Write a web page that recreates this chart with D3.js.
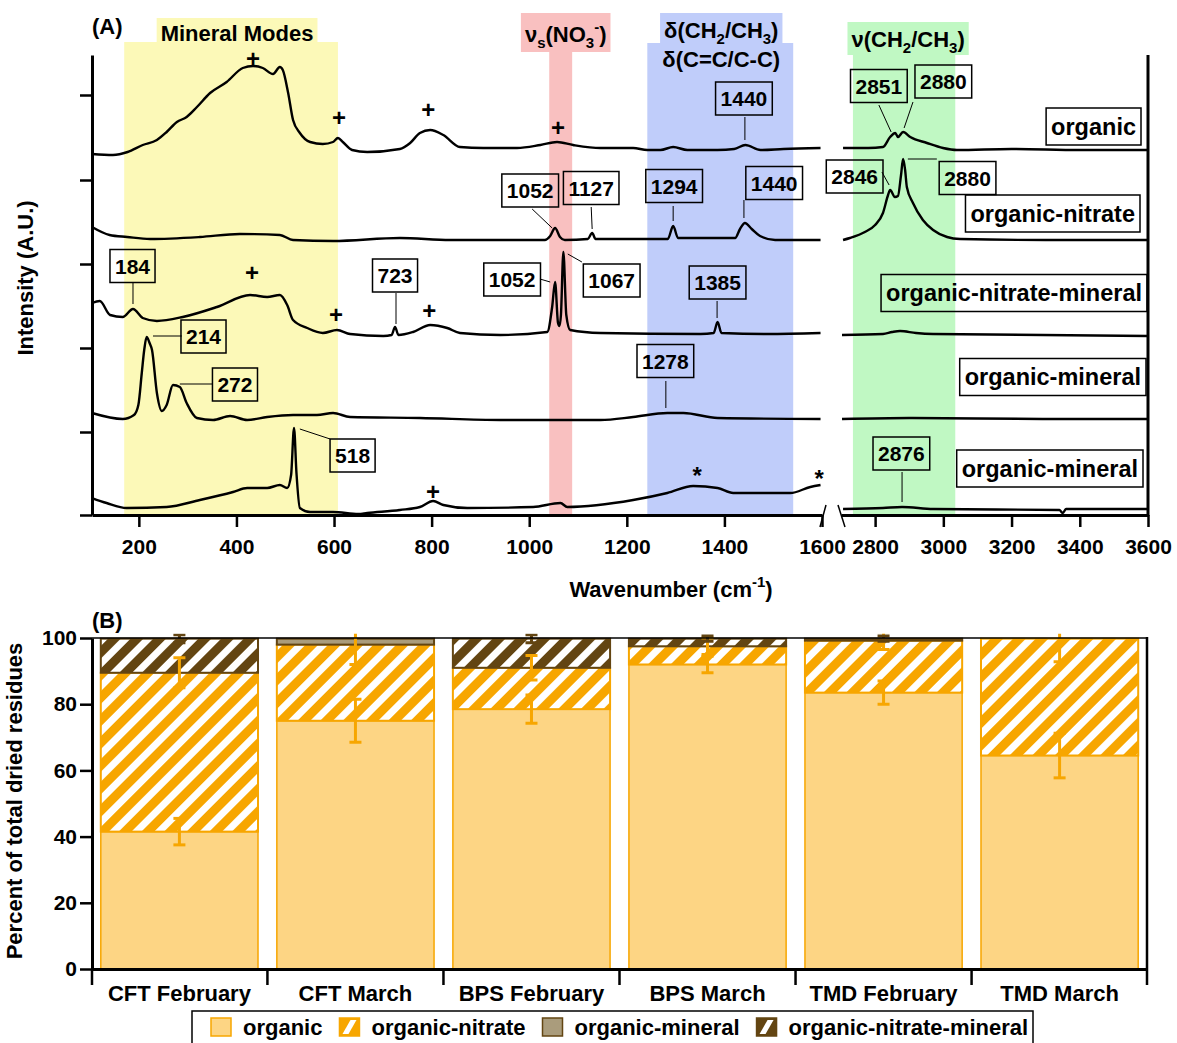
<!DOCTYPE html>
<html><head><meta charset="utf-8">
<script src="https://cdn.jsdelivr.net/npm/d3@7"></script>
<style>
body{margin:0;background:#fff}
text{font-family:"Liberation Sans",Arial,sans-serif;font-weight:bold;fill:#000}
</style>
</head><body>
<svg id="chart" width="1177" height="1043" xmlns="http://www.w3.org/2000/svg"></svg>
<script>
// ================= PANEL A DATA =================
const seg1Domain = [104, 1600];
const seg2Domain = [2700, 3600];
const seg1Ticks = [200, 400, 600, 800, 1000, 1200, 1400, 1600];
const seg2Ticks = [2800, 3000, 3200, 3400, 3600];
const intensityDomain = [0, 460];
const intensityTicks = [0, 83, 167, 251, 335, 420];

const traceNames = ["organic", "organic-nitrate", "organic-nitrate-mineral", "organic-mineral", "organic-mineral"];
const traceLabelIntensity = [388.5, 301.5, 222, 138, 46.5];

// spectra: [wavenumber, intensity (A.U., stacked)]
const spec1Low = [[104,361],[147,360],[177,363],[208,370],[237,375],[257,383],[278,393],[298,398],[319,408],[346,422],[380,433],[413,447],[434,449],[454,447],[475,441],[489,448],[495,445],[506,422],[516,395],[530,382],[551,373],[577,371],[598,373],[608,377],[618,373],[637,365],[668,363],[735,366],[756,372],[776,382],[797,385],[824,380],[858,368],[906,367],[975,367],[1023,370],[1057,373],[1090,370],[1146,367],[1213,367],[1242,365],[1269,365],[1295,368],[1324,365],[1386,365],[1420,366],[1443,370],[1474,365],[1521,366],[1597,367]];
const spec1High = [[2706,367],[2780,367],[2823,368],[2844,378],[2859,382],[2867,378],[2882,383],[2903,378],[2952,372],[2999,367],[3040,365],[3200,366],[3400,365],[3600,365]];
const spec2Low = [[104,288],[140,280],[176,278],[223,276],[325,278],[407,281],[489,280],[516,275],[598,274],[735,277],[838,275],[940,275],[1032,275],[1043,279],[1053,287],[1063,278],[1073,275],[1120,276],[1129,282],[1136,276],[1284,276],[1295,289],[1305,277],[1422,277],[1432,286],[1442,292],[1456,286],[1473,279],[1504,275],[1597,275]];
const spec2High = [[2706,275],[2726,277],[2770,283],[2800,290],[2823,302],[2838,320],[2844,325],[2858,318],[2867,319],[2876,340],[2882,356],[2888,345],[2893,328],[2911,312],[2940,295],[2970,285],[3011,278],[3049,276],[3300,275],[3600,275]];
const spec3Low = [[104,212],[120,214],[141,200],[167,198],[188,206],[208,197],[237,194],[290,198],[360,208],[428,220],[463,218],[489,220],[504,210],[516,195],[545,187],[577,182],[606,185],[633,181],[701,179],[718,180],[725,188],[732,180],[762,183],[797,190],[832,187],[858,182],[941,180],[1037,183],[1047,208],[1053,233],[1059,192],[1062,189],[1065,200],[1070,263],[1076,200],[1084,185],[1146,182],[1351,181],[1378,182],[1386,193],[1394,182],[1488,181],[1597,182]];
const spec3High = [[2703,180],[2823,181],[2850,183],[2873,184],[2920,182],[2970,181],[3600,179]];
const spec4Low = [[104,102],[167,96],[190,100],[199,110],[206,142],[211,165],[216,178],[222,172],[227,165],[237,122],[247,104],[257,110],[270,130],[284,128],[298,112],[319,97],[352,95],[387,99],[422,95],[463,98],[516,100],[565,100],[598,102],[633,98],[776,97],[941,95],[1146,95],[1213,98],[1283,102],[1316,102],[1386,97],[1597,96]];
const spec4High = [[2703,96],[2900,97],[3300,96],[3600,96]];
const spec5Low = [[104,17],[134,12],[175,7],[257,8],[325,15],[393,23],[422,27],[463,27],[489,30],[504,27],[512,40],[518,87],[523,42],[530,7],[551,3],[598,3],[650,1],[668,2],[735,5],[776,8],[803,14],[824,10],[873,7],[1008,8],[1064,12],[1078,8],[1213,15],[1283,22],[1336,29],[1386,27],[1418,22],[1488,22],[1535,22],[1576,28],[1597,30]];
const spec5High = [[2706,6],[2823,7],[2879,8],[2970,6],[3340,5],[3350,2],[3360,6],[3600,6]];

// highlighted spectral regions
const bandSeg = [1, 1, 1, 2];
const bandLow = [170, 1041, 1242, 2735];
const bandHigh = [608, 1088, 1541, 3035];
const bandLabels = [
  [["Mineral Modes"]],
  [["ν"], ["s", "sub"], ["(NO"], ["3", "sub"], ["-", "sup"], [")"]],
  [["δ(CH"], ["2", "sub"], ["/CH"], ["3", "sub"], [")"]],
  [["ν(CH"], ["2", "sub"], ["/CH"], ["3", "sub"], [")"]]
];
const bandSecondLine = ["", "", "δ(C=C/C-C)", ""];

// peak annotations
const annLabels = ["1440","2851","2880","1052","1127","1294","1440","2846","2880","184","723","214","272","518","1052","1067","1385","1278","2876"];
const annSeg =    [1,2,2,1,1,1,1,2,2,1,1,1,1,1,1,1,1,1,2];
const annBox = [[1440,416.5],[2811,429],[3000,433.5],[1002,324.5],[1127,327],[1297,329],[1502,332],[2740,338.5],[3071,337],[187,249],[725,239.5],[332.5,178.5],[397,130.5],[638,59.5],[965,235.5],[1169,234.5],[1386,232.5],[1279,154],[2877,61.5]];
const annLeader = [
  [[1442,398],[1442,375]], [[2811,410],[2847,383]], [[2911,413],[2885,387]],
  [[1006,306],[1047,287]], [[1127,308],[1129,286]], [[1295,309],[1295,294]],
  [[1440,315],[1440,297]], [[2820,343],[2841,330]], [[2896,356],[2981,356]],
  [[188,232],[188,211]], [[727,222],[727,191]], [[229,179],[288,179]],
  [[284,131],[352,131]], [[530,86],[592,76]], [[1022,236],[1043,233]],
  [[1079,261],[1108,253]], [[1385,214],[1385,197]], [[1280,134],[1280,107]],
  [[2879,43],[2879,13]]
];
const plusMarks = [[434,456],[610,397],[793,405],[1059,387],[432,242],[604,200],[795,204],[803,23]];
const starMarks = [[1344,43],[1594,40]];

// ================= PANEL B DATA =================
const categories = ["CFT February", "CFT March", "BPS February", "BPS March", "TMD February", "TMD March"];
const seriesNames = ["organic", "organic-nitrate", "organic-mineral", "organic-nitrate-mineral"];
const organicPct = [41.5, 75, 78.5, 92, 83.5, 64.5];
const organicNitratePct = [48, 23, 12.5, 5.5, 15.7, 35.3];
const organicMineralPct = [0, 1.8, 0, 0, 0, 0];
const organicNitrateMineralPct = [10.3, 0, 8.8, 2.3, 0.6, 0];
const organicErr = [4, 6.5, 4.25, 2.5, 3.5, 6.75];
const organicNitrateErr = [4.5, 6, 3.7, 2.5, 2.7, 7];
const organicMineralErr = [0, 0, 0, 0, 0, 0];
const organicNitrateMineralErr = [1.2, 0, 1.2, 0.8, 0.8, 0];
const percentTicks = [0, 20, 40, 60, 80, 100];

// ================= STYLE =================
const bandColors = ["#fcf9b8", "#f9c0c0", "#c0cdfa", "#c0f8c3"];
const bandTop = [42, 52, 43, 55];
const bandRectTop = [18, 13, 13, 22];
const bandLabelY = [41, 42, 38, 47];
const bandLabelDx = [6, 5, 1, 4];
const traceLabelRight = [1136, 1135, 1142, 1141, 1138];
const ORANGE = "#f7a600", LIGHT = "#fdd584", BROWN = "#634512", TAN = "#aa9c7c";

const svg = d3.select("#chart");
svg.append("rect").attr("width", 1177).attr("height", 1043).attr("fill", "#fff");
const defs = svg.append("defs");

function addRich(t, parts) {
  let shift = 0;
  parts.forEach(([txt, kind]) => {
    const target = kind === "sub" ? 6 : kind === "sup" ? -10 : 0;
    const ts = t.append("tspan").text(txt);
    if (target - shift !== 0) ts.attr("dy", target - shift);
    if (kind) ts.attr("font-size", 15);
    shift = target;
  });
}

// ---------- Panel A ----------
const xA1 = d3.scaleLinear().domain(seg1Domain).range([92, 822]);
const xA2 = d3.scaleLinear().domain(seg2Domain).range([841, 1148]);
const yA = d3.scaleLinear().domain(intensityDomain).range([515, 55]);
const xs = s => (s === 1 ? xA1 : xA2);
const gA = svg.append("g");

bandLow.forEach((lo, i) => {
  const sc = xs(bandSeg[i]);
  gA.append("rect").attr("x", sc(lo)).attr("y", bandTop[i])
    .attr("width", sc(bandHigh[i]) - sc(lo)).attr("height", 515 - bandTop[i])
    .attr("fill", bandColors[i]);
});
bandLabels.forEach((parts, i) => {
  const sc = xs(bandSeg[i]);
  const cx = (sc(bandLow[i]) + sc(bandHigh[i])) / 2 + bandLabelDx[i];
  const t = gA.append("text").attr("x", cx).attr("y", bandLabelY[i])
    .attr("text-anchor", "middle").attr("font-size", 22);
  addRich(t, parts);
  const bb = t.node().getBBox();
  gA.insert("rect", () => t.node()).attr("x", bb.x - 4).attr("width", bb.width + 8)
    .attr("y", bandRectTop[i]).attr("height", bandTop[i] - bandRectTop[i])
    .attr("fill", bandColors[i]);
  if (bandSecondLine[i]) {
    gA.append("text").attr("x", cx).attr("y", 67).attr("text-anchor", "middle")
      .attr("font-size", 22).text(bandSecondLine[i]);
  }
});

gA.append("text").attr("x", 92).attr("y", 34).attr("font-size", 22).text("(A)");

const lineLow = d3.line().x(d => xA1(d[0])).y(d => yA(d[1])).curve(d3.curveMonotoneX);
const lineHigh = d3.line().x(d => xA2(d[0])).y(d => yA(d[1])).curve(d3.curveMonotoneX);
[spec1Low, spec2Low, spec3Low, spec4Low, spec5Low].forEach(s =>
  gA.append("path").attr("d", lineLow(s)).attr("fill", "none").attr("stroke", "#000").attr("stroke-width", 2.4).attr("stroke-linejoin", "round"));
[spec1High, spec2High, spec3High, spec4High, spec5High].forEach(s =>
  gA.append("path").attr("d", lineHigh(s)).attr("fill", "none").attr("stroke", "#000").attr("stroke-width", 2.4).attr("stroke-linejoin", "round"));

// axes A
function styleAxis(g, fs) {
  g.attr("font-family", "Liberation Sans, Arial, sans-serif").attr("font-weight", "bold").attr("font-size", fs);
  g.select(".domain").attr("stroke-width", 3).attr("stroke", "#000");
  g.selectAll(".tick line").attr("stroke-width", 2.5).attr("stroke", "#000");
  g.selectAll(".tick text").attr("fill", "#000");
}
const fmt = d3.format("d");
styleAxis(gA.append("g").attr("transform", "translate(92,0)")
  .call(d3.axisLeft(yA).tickValues(intensityTicks).tickSize(12).tickSizeOuter(0).tickFormat("")), 21);
styleAxis(gA.append("g").attr("transform", "translate(0,515)")
  .call(d3.axisBottom(xA1).tickValues(seg1Ticks).tickFormat(fmt).tickSize(12).tickSizeOuter(0).tickPadding(12)), 21);
styleAxis(gA.append("g").attr("transform", "translate(0,515)")
  .call(d3.axisBottom(xA2).tickValues(seg2Ticks).tickFormat(fmt).tickSize(12).tickSizeOuter(0).tickPadding(12)), 21);
gA.append("line").attr("x1", 1148).attr("x2", 1148).attr("y1", 55).attr("y2", 516).attr("stroke", "#000").attr("stroke-width", 3);
// axis break marks
gA.append("line").attr("x1", 826).attr("y1", 505).attr("x2", 820).attr("y2", 527).attr("stroke", "#000").attr("stroke-width", 1.5);
gA.append("line").attr("x1", 838).attr("y1", 505).attr("x2", 845).attr("y2", 527).attr("stroke", "#000").attr("stroke-width", 1.5);

// annotations
annLabels.forEach((lab, i) => {
  const sc = xs(annSeg[i]);
  const L = annLeader[i];
  gA.append("line").attr("x1", sc(L[0][0])).attr("y1", yA(L[0][1]))
    .attr("x2", sc(L[1][0])).attr("y2", yA(L[1][1])).attr("stroke", "#000").attr("stroke-width", 1);
  const cx = sc(annBox[i][0]), cy = yA(annBox[i][1]);
  const t = gA.append("text").attr("x", cx).attr("y", cy + 7.5).attr("text-anchor", "middle")
    .attr("font-size", 21).text(lab);
  const w = t.node().getComputedTextLength();
  gA.append("rect").attr("x", cx - w / 2 - 5).attr("y", cy - 16.5).attr("width", w + 10).attr("height", 33)
    .attr("fill", "none").attr("stroke", "#000").attr("stroke-width", 1.5);
});
plusMarks.forEach(p => gA.append("text").attr("x", xA1(p[0])).attr("y", yA(p[1]) + 8)
  .attr("text-anchor", "middle").attr("font-size", 24).text("+"));
starMarks.forEach(p => gA.append("text").attr("x", xA1(p[0])).attr("y", yA(p[1]) + 12)
  .attr("text-anchor", "middle").attr("font-size", 24).text("*"));

// trace labels
traceNames.forEach((nm, i) => {
  const cy = yA(traceLabelIntensity[i]);
  const t = gA.append("text").attr("x", traceLabelRight[i]).attr("y", cy + 8)
    .attr("text-anchor", "end").attr("font-size", 23.5).text(nm);
  const w = t.node().getComputedTextLength();
  gA.append("rect").attr("x", traceLabelRight[i] - w - 5).attr("y", cy - 18.5).attr("width", w + 10).attr("height", 37)
    .attr("fill", "none").attr("stroke", "#000").attr("stroke-width", 1.5);
});

gA.append("text").attr("transform", "translate(33,278) rotate(-90)").attr("text-anchor", "middle")
  .attr("font-size", 22).text("Intensity (A.U.)");
const xt = gA.append("text").attr("x", 671).attr("y", 597).attr("text-anchor", "middle").attr("font-size", 22);
addRich(xt, [["Wavenumber (cm"], ["-1", "sup"], [")"]]);

// ---------- Panel B ----------
function hatch(id, color) {
  const p = defs.append("pattern").attr("id", id).attr("patternUnits", "userSpaceOnUse")
    .attr("width", 16).attr("height", 16).attr("patternTransform", "rotate(45)");
  p.append("rect").attr("width", 16).attr("height", 16).attr("fill", "#fff");
  p.append("rect").attr("width", 9).attr("height", 16).attr("fill", color);
}
hatch("hatchOrange", ORANGE);
hatch("hatchBrown", BROWN);

const keys = ["organic", "organicNitrate", "organicMineral", "organicNitrateMineral"];
const pctArrays = [organicPct, organicNitratePct, organicMineralPct, organicNitrateMineralPct];
const errArrays = [organicErr, organicNitrateErr, organicMineralErr, organicNitrateMineralErr];
const fills = [LIGHT, "url(#hatchOrange)", TAN, "url(#hatchBrown)"];
const strokes = [ORANGE, ORANGE, BROWN, BROWN];
const errColors = [ORANGE, ORANGE, BROWN, BROWN];

const rows = categories.map((c, i) => {
  const r = { cat: c };
  keys.forEach((k, j) => r[k] = pctArrays[j][i]);
  return r;
});
const stacked = d3.stack().keys(keys)(rows);

const xB = d3.scaleBand().domain(categories).range([92, 1147]).paddingInner(0.107).paddingOuter(0.05);
const yB = d3.scaleLinear().domain([0, 100]).range([969, 638]);
const gB = svg.append("g");
const bw = xB.bandwidth();

stacked.forEach((layer, j) => {
  layer.forEach((d, i) => {
    if (d[1] - d[0] <= 0) return;
    gB.append("rect").attr("x", xB(categories[i])).attr("width", bw)
      .attr("y", yB(d[1])).attr("height", yB(d[0]) - yB(d[1]))
      .attr("fill", fills[j]).attr("stroke", strokes[j]).attr("stroke-width", j === 0 ? 1.5 : 2);
  });
});

defs.append("clipPath").attr("id", "clipB").append("rect")
  .attr("x", 92).attr("y", yB(101.3)).attr("width", 1055).attr("height", 969 - yB(101.3));
const gErr = gB.append("g").attr("clip-path", "url(#clipB)");
stacked.forEach((layer, j) => {
  layer.forEach((d, i) => {
    const e = errArrays[j][i];
    if (!e || d[1] - d[0] <= 0) return;
    const cx = xB(categories[i]) + bw / 2;
    const y0 = yB(d[1] - e), y1 = yB(d[1] + e);
    const c = errColors[j];
    gErr.append("line").attr("x1", cx).attr("x2", cx).attr("y1", y0).attr("y2", y1).attr("stroke", c).attr("stroke-width", 3);
    [y0, y1].forEach(yy => gErr.append("line").attr("x1", cx - 6).attr("x2", cx + 6).attr("y1", yy).attr("y2", yy)
      .attr("stroke", c).attr("stroke-width", 3));
  });
});

// frame
gB.append("line").attr("x1", 92).attr("x2", 1147).attr("y1", 638).attr("y2", 638).attr("stroke", "#000").attr("stroke-width", 1.5);
gB.append("line").attr("x1", 1147).attr("x2", 1147).attr("y1", 637).attr("y2", 969).attr("stroke", "#000").attr("stroke-width", 2.5);

styleAxis(gB.append("g").attr("transform", "translate(92,0)")
  .call(d3.axisLeft(yB).tickValues(percentTicks).tickSize(12).tickSizeOuter(0).tickPadding(3)), 21);

// category axis
const catAxis = gB.append("g").attr("transform", "translate(0,969)")
  .call(d3.axisBottom(xB).tickSize(0).tickSizeOuter(0).tickPadding(16));
styleAxis(catAxis, 22);
const step = xB.step();
const bounds = [92].concat(categories.slice(0, -1).map(c => xB(c) + bw + step * xB.paddingInner() / 2)).concat([1147]);
bounds.forEach(b => gB.append("line").attr("x1", b).attr("x2", b).attr("y1", 969).attr("y2", 985)
  .attr("stroke", "#000").attr("stroke-width", 2.5));

gB.append("text").attr("x", 92).attr("y", 628).attr("font-size", 22).text("(B)");
gB.append("text").attr("transform", "translate(22,801) rotate(-90)").attr("text-anchor", "middle")
  .attr("font-size", 22).text("Percent of total dried residues");

// legend
const lg = svg.append("g");
lg.append("rect").attr("x", 192).attr("y", 1011).attr("width", 841).attr("height", 50)
  .attr("fill", "#fff").attr("stroke", "#000").attr("stroke-width", 1.5);
let lx = 211;
seriesNames.forEach((nm, j) => {
  const sy = 1018, sw = 20, sh = 18;
  if (j === 1 || j === 3) {
    lg.append("rect").attr("x", lx).attr("y", sy).attr("width", sw).attr("height", sh).attr("fill", j === 1 ? ORANGE : BROWN);
    lg.append("polygon").attr("points", [[lx + 3, sy + sh - 2], [lx + sw - 9, sy + 2], [lx + sw - 3, sy + 2], [lx + 9, sy + sh - 2]].map(p => p.join(",")).join(" "))
      .attr("fill", "#fff");
    lg.append("rect").attr("x", lx).attr("y", sy).attr("width", sw).attr("height", sh).attr("fill", "none")
      .attr("stroke", j === 1 ? ORANGE : BROWN).attr("stroke-width", 1.5);
  } else {
    lg.append("rect").attr("x", lx).attr("y", sy).attr("width", sw).attr("height", sh)
      .attr("fill", j === 0 ? LIGHT : TAN).attr("stroke", j === 0 ? ORANGE : BROWN).attr("stroke-width", 1.5);
  }
  const t = lg.append("text").attr("x", lx + 32).attr("y", 1035).attr("font-size", 22).text(nm);
  lx = lx + 32 + t.node().getComputedTextLength() + 17;
});
</script>
</body></html>
